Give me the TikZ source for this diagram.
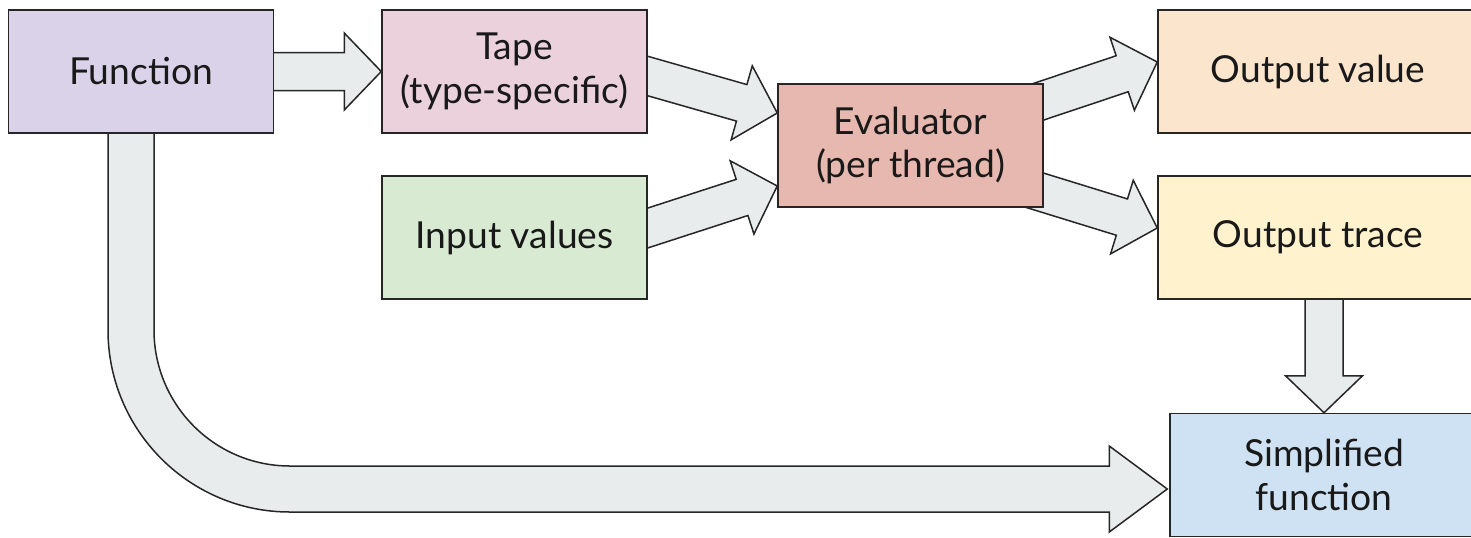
\documentclass[tikz,border=0pt]{standalone}
\usepackage{fontspec}
\setmainfont{Lato}
\usepackage{xcolor}
\usepackage{tikz}
\usetikzlibrary{calc,backgrounds}

\definecolor{funcfill}{HTML}{D9D2E9}
\definecolor{tapefill}{HTML}{EAD1DC}
\definecolor{inputfill}{HTML}{D9EAD3}
\definecolor{evalfill}{HTML}{E6B8AF}
\definecolor{valuefill}{HTML}{FCE5CD}
\definecolor{tracefill}{HTML}{FFF2CC}
\definecolor{simpfill}{HTML}{CFE2F3}
\definecolor{arrowfill}{HTML}{E8ECEC}

% block arrow from #1 to #2 (tip), tail starts inside the first box
\newcommand{\blockarrow}[2]{%
  \path #1 coordinate (ba-a) #2 coordinate (ba-h);
  \path ($(ba-a)!-8pt!(ba-h)$) coordinate (ba-t)
        ($(ba-h)!18.5pt!(ba-a)$) coordinate (ba-b);
  \draw[arrowbody]
    ($(ba-t)!9.5pt!90:(ba-h)$) -- ($(ba-b)!9.5pt!90:(ba-h)$)
    -- ($(ba-b)!19.25pt!90:(ba-h)$) -- (ba-h)
    -- ($(ba-b)!19.25pt!-90:(ba-h)$) -- ($(ba-b)!9.5pt!-90:(ba-h)$)
    -- ($(ba-t)!9.5pt!-90:(ba-h)$) -- cycle;
}

\begin{document}
\begin{tikzpicture}
      [ x=0.5pt, y=-0.5pt
      , box/.style={draw=black!85, line width=0.75pt, minimum width=132.5pt,
          minimum height=61.5pt, inner sep=0pt, align=center,
          font=\fontsize{18.6}{21.8}\selectfont, text=black!90}
      , widebox/.style={box, minimum width=160pt}
      , arrowbody/.style={fill=arrowfill, draw=black!85, line width=0.75pt}
      ]
    \useasboundingbox (0,0) rectangle (1471,537);

    \node[box, fill=funcfill] (F) at (141,71.5) {Function};
    \node[box, fill=tapefill] (T) at (514.5,71.5) {Tape\\(type-specific)};
    \node[box, fill=inputfill] (IV) at (514.5,237.5) {Input values};
    \node[box, fill=evalfill] (E) at (910.5,145.5) {Evaluator\\(per thread)};
    \node[widebox, fill=valuefill] (OV) at (1318,71.5) {Output value};
    \node[widebox, fill=tracefill] (OT) at (1318,237.5) {Output trace};
    \node[box, fill=simpfill, minimum width=154pt] (SF) at (1324,475) {Simplified\\function};

    \begin{pgfonlayer}{background}
    \blockarrow{(F.center)}{(T.west)}
    \blockarrow{($(T.east)+(0,4.5)$)}{($(E.west)+(0,-32.5)$)}
    \blockarrow{($(IV.east)+(0,-9.5)$)}{($(E.west)+(0,40.5)$)}
    \blockarrow{($(E.east)+(0,-45.5)$)}{($(OV.west)+(0,-9.5)$)}
    \blockarrow{($(E.east)+(0,47.5)$)}{($(OT.west)+(0,-9.5)$)}
    \blockarrow{(SF.north |- OT.center)}{(SF.north)}

    % long bent arrow from the function to the simplified one
    \coordinate (fs) at ($(F.south)+(-10,-20)$);
    \coordinate (st) at ($(SF.west)+(-2,14)$);
    \draw[arrowbody]
      ($(fs)+(-23,0)$) -- ($(fs |- st)+(-23,-159)$)
      arc[start angle=180, end angle=90, radius=182]
      -- ($(st)+(-58,23)$) -- ($(st)+(-58,43)$) -- (st)
      -- ($(st)+(-58,-43)$) -- ($(st)+(-58,-23)$)
      -- ($(fs |- st)+(159,-23)$)
      arc[start angle=90, end angle=180, radius=136]
      -- ($(fs)+(23,0)$) -- cycle;
    \end{pgfonlayer}

  \end{tikzpicture}
\end{document}
